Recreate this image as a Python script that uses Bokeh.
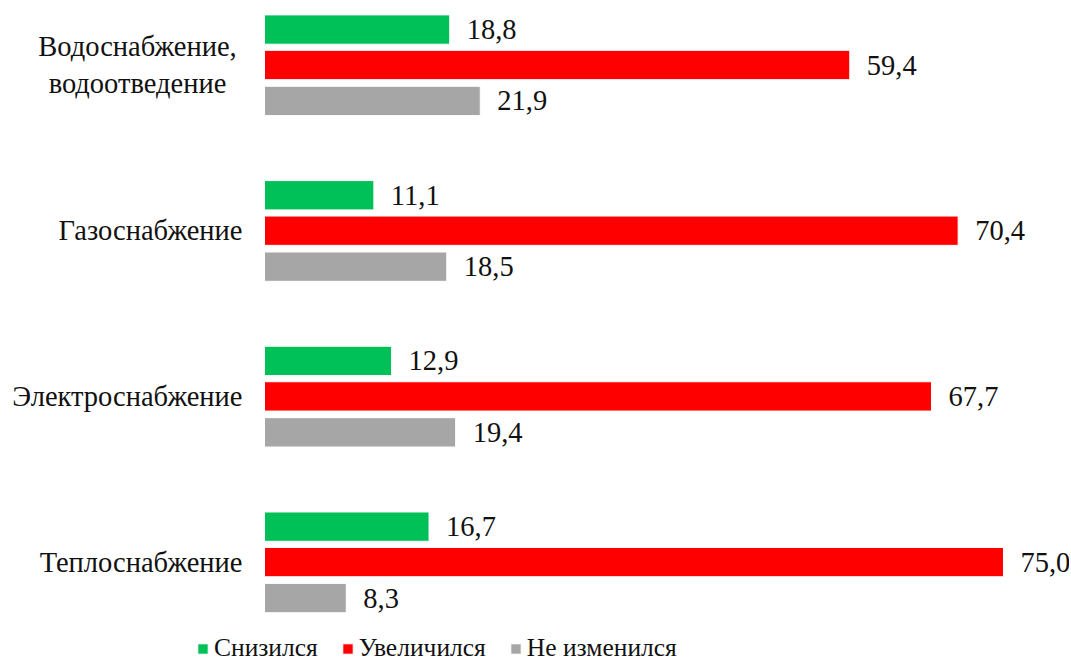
from bokeh.plotting import figure
from bokeh.models import ColumnDataSource, Range1d, Legend, LegendItem
from bokeh.core.properties import value
from bokeh.embed import file_html
from bokeh.resources import INLINE

categories = ["Водоснабжение,\nводоотведение", "Газоснабжение", "Электроснабжение", "Теплоснабжение"]
series_names = ["Снизился", "Увеличился", "Не изменился"]
decreased = [18.8, 11.1, 12.9, 16.7]
increased = [59.4, 70.4, 67.7, 75.0]
unchanged = [21.9, 18.5, 19.4, 8.3]

colors = ["#00C158", "#FF0000", "#A6A6A6"]
FONT = "Liberation Serif"
FS = "28.5px"

W, H = 1069, 666
px_per_unit = 9.853
zero_px = 264
x_start = -zero_px / px_per_unit
x_end = x_start + W / px_per_unit

pitch = 165.7
first_center = 64.5
y_top = (0 - first_center) / pitch
y_bottom = (H - first_center) / pitch

p = figure(width=W, height=H, output_backend="svg", toolbar_location=None,
           x_range=Range1d(x_start, x_end), y_range=Range1d(y_bottom, y_top),
           x_axis_location=None, y_axis_location=None, min_border=0)
p.outline_line_color = None
p.grid.visible = False
p.background_fill_color = "white"
p.border_fill_color = "white"

offsets = [-0.214, 0.0, 0.217]
bar_h = 0.177
series = [decreased, increased, unchanged]
renderers = []
for vals, off, col in zip(series, offsets, colors):
    ys = [i + off for i in range(len(categories))]
    src = ColumnDataSource(dict(y=ys, right=vals,
                                lab=[f"{v:.1f}".replace(".", ",") for v in vals]))
    r = p.hbar(y="y", left=0, right="right", height=bar_h, source=src,
               fill_color=col, line_color="white", line_width=1)
    renderers.append(r)
    p.text(x="right", y="y", text="lab", source=src, x_offset=17,
           text_align="left", text_baseline="middle",
           text_font=value(FONT), text_font_size=FS, text_color="#111111")

single = [c for c in categories if "\n" not in c]
multi = [c for c in categories if "\n" in c]
p.text(x=[0] * len(single), y=[categories.index(c) for c in single], text=single,
       x_offset=-22, text_align="right", text_baseline="middle",
       text_font=value(FONT), text_font_size=FS, text_color="#111111")
p.text(x=[0] * len(multi), y=[categories.index(c) for c in multi], text=multi,
       x_offset=-127, text_align="center", text_baseline="middle", text_line_height=1.18,
       text_font=value(FONT), text_font_size=FS, text_color="#111111")

legend = Legend(items=[LegendItem(label=n, renderers=[r]) for n, r in zip(series_names, renderers)],
                orientation="horizontal", location=(196, 3),
                glyph_width=13, glyph_height=13, label_standoff=5, spacing=23,
                padding=0, margin=0, border_line_color=None, background_fill_alpha=0,
                label_text_font=FONT, label_text_font_size="25.5px", label_text_color="#111111")
p.add_layout(legend)

open("out.html", "w").write(file_html(p, INLINE))
